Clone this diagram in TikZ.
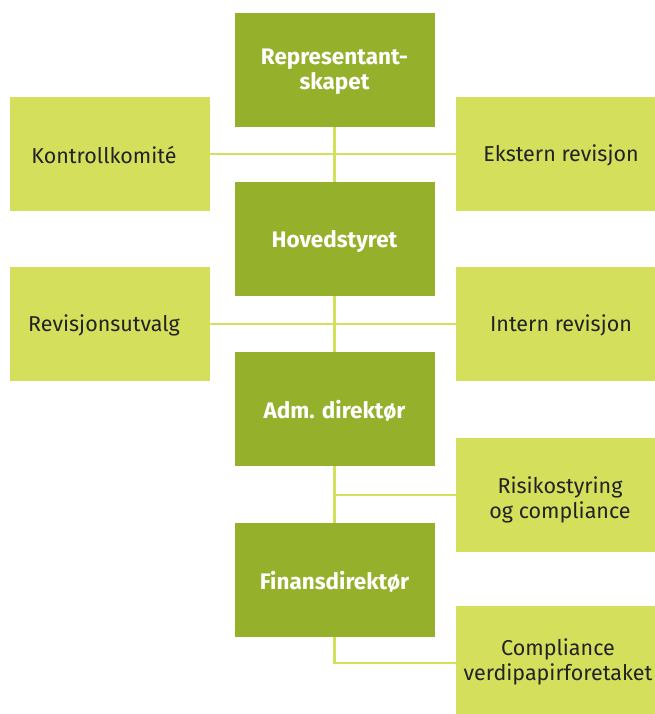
\documentclass[tikz,border=0pt]{standalone}
\usepackage{fontspec}
\setmainfont{Fira Sans}
\begin{document}
\begin{tikzpicture}[x=1pt,y=-1pt,
  darkbox/.style={fill=orgdark,draw=none,minimum width=200pt,minimum height=114pt,inner sep=0pt},
  lightbox/.style={fill=orglight,draw=none,minimum width=200pt,minimum height=114pt,inner sep=0pt},
  headtext/.style={text=white,font=\fontsize{22.5}{25}\selectfont\bfseries,align=center,inner sep=0pt,yshift=-2pt},
  bodytext/.style={text=orgtext,font=\fontsize{21.5}{25}\selectfont,align=center,inner sep=0pt},
  link/.style={draw=orglight,line width=2.5pt}]
\definecolor{orgdark}{RGB}{149,176,42}
\definecolor{orglight}{RGB}{212,224,92}
\definecolor{orgtext}{RGB}{34,34,34}
\useasboundingbox (0,0) rectangle (655,714);
\clip (0,0) rectangle (655,714);
% main chain
\node[darkbox] (rep) at (334.5,70) {};
\node[darkbox] (hov) at (334.5,239) {};
\node[darkbox] (adm) at (334.5,409) {};
\node[darkbox] (fin) at (334.5,580) {};
% side units
\node[lightbox] (kon) at (110,154) {};
\node[lightbox] (eks) at (556,154) {};
\node[lightbox] (rev) at (110,324) {};
\node[lightbox] (int) at (556,324) {};
\node[lightbox] (ris) at (556,495) {};
\node[lightbox] (com) at (556,663) {};
% connectors
\coordinate (j3) at (adm.south |- ris.west);
\coordinate (j4) at (fin.south |- com.west);
\draw[link] (rep.south) -- (hov.north);
\draw[link] (hov.south) -- (adm.north);
\draw[link] (adm.south) -- (fin.north);
\draw[link] (kon.east) -- (eks.west);
\draw[link] (rev.east) -- (int.west);
\draw[link] (j3) -- (ris.west);
\draw[link] (fin.south) -- (j4) -- (com.west);
% labels
\node[headtext] (trep) at (rep.center) {Representant-\\skapet};
\node[headtext] (thov) at (hov.center) {Hovedstyret};
\node[headtext] (tadm) at (adm.center) {Adm. direktør};
\node[headtext] (tfin) at (fin.center) {Finansdirektør};
\node[bodytext] (tkon) at ([xshift=-6pt,yshift=-1pt]kon.center) {Kontrollkomité};
\node[bodytext] (teks) at ([xshift=5pt,yshift=-1pt]eks.center) {Ekstern revisjon};
\node[bodytext] (trev) at ([xshift=-6pt,yshift=-1pt]rev.center) {Revisjonsutvalg};
\node[bodytext] (tint) at ([xshift=5pt,yshift=-1pt]int.center) {Intern revisjon};
\node[bodytext] (tris) at ([xshift=4pt,yshift=-5pt]ris.center) {Risikostyring\\og compliance};
\node[bodytext] (tcom) at ([xshift=2pt,yshift=1pt]com.center) {Compliance\\verdipapirforetaket};
\end{tikzpicture}
\end{document}
